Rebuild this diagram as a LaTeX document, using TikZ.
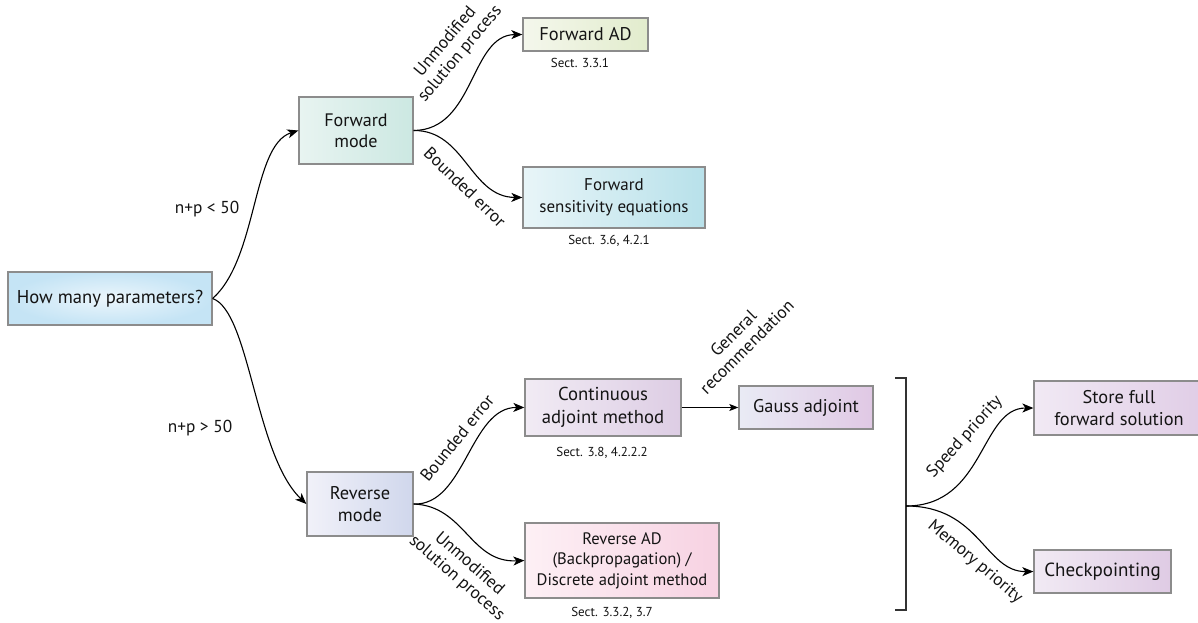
\documentclass[tikz,border=0pt]{standalone}
\usepackage{fontspec}
\setmainfont{PT Sans}
\usetikzlibrary{arrows.meta}
\tikzset{
  box/.style={draw=black!45, line width=1.3pt, inner sep=2pt, align=center,
    font=\fontsize{18.4}{22}\selectfont, text=black!92},
  arr/.style={line width=1.1pt, -{Stealth[length=11pt,width=9pt,inset=3pt]}},
  lbl/.style={font=\fontsize{17.3}{19}\selectfont, align=center, inner sep=0pt, text=black!92},
  sect/.style={font=\fontsize{13}{15}\selectfont, inner sep=0pt, text=black!92},
}
\definecolor{bracketc}{gray}{0.2}
\begin{document}
\begin{tikzpicture}[x=1pt,y=-1pt]
\clip (0,0) rectangle (1198,623);
\fill[white] (0,0) rectangle (1198,623);

% nodes
\node[box, font=\fontsize{18.6}{22}\selectfont, minimum width=204pt, minimum height=53pt, inner color={rgb,255:red,236;green,246;blue,252}, outer color={rgb,255:red,197;green,228;blue,245}] (hm) at (110,298.5) {How many parameters?};
\node[box, font=\fontsize{18.1}{21}\selectfont, minimum width=114pt, minimum height=67pt, left color={rgb,255:red,232;green,244;blue,241}, right color={rgb,255:red,204;green,232;blue,226}] (fm) at (356,130.5) {Forward\\mode};
\node[box, minimum width=125pt, minimum height=33pt, left color={rgb,255:red,244;green,247;blue,236}, right color={rgb,255:red,226;green,236;blue,205}] (fad) at (585.5,34.5) {Forward AD};
\node[box, font=\fontsize{17}{22}\selectfont, minimum width=182pt, minimum height=61pt, left color={rgb,255:red,232;green,245;blue,248}, right color={rgb,255:red,184;green,225;blue,234}] (fse) at (614,197.5) {Forward\\sensitivity equations};
\node[box, minimum width=106pt, minimum height=64pt, left color={rgb,255:red,241;green,241;blue,249}, right color={rgb,255:red,208;green,215;blue,236}] (rm) at (360,504) {Reverse\\mode};
\node[box, font=\fontsize{18.7}{23}\selectfont, minimum width=156pt, minimum height=57pt, left color={rgb,255:red,241;green,235;blue,244}, right color={rgb,255:red,221;green,205;blue,228}] (cam) at (603,407.5) {Continuous\\adjoint method};
\node[box, font=\fontsize{16.6}{20.5}\selectfont, minimum width=194pt, minimum height=75pt, left color={rgb,255:red,253;green,240;blue,245}, right color={rgb,255:red,247;green,210;blue,226}] (rad) at (622,560.5) {Reverse AD\\(Backpropagation) /\\Discrete adjoint method};
\node[box, minimum width=134pt, minimum height=43pt, left color={rgb,255:red,233;green,235;blue,245}, right color={rgb,255:red,224;green,200;blue,228}] (ga) at (806,407.5) {Gauss adjoint};
\node[box, minimum width=170pt, minimum height=54pt, left color={rgb,255:red,241;green,233;blue,244}, right color={rgb,255:red,224;green,205;blue,230}] (sfs) at (1119,408) {Store full\\forward solution};
\node[box, font=\fontsize{19}{22}\selectfont, minimum width=137pt, minimum height=43pt, left color={rgb,255:red,241;green,234;blue,244}, right color={rgb,255:red,223;green,203;blue,228}] (cp) at (1102.5,571.5) {Checkpointing};

% section labels
\node[sect] (s1) at (580,63) {Sect. 3.3.1};
\node[sect] (s2) at (609,241) {Sect. 3.6, 4.2.1};
\node[sect] (s3) at (602,453) {Sect. 3.8, 4.2.2.2};
\node[sect] (s4) at (612,613) {Sect. 3.3.2, 3.7};

% bracket
\coordinate (bt1) at (895,378);
\coordinate (bt2) at (906,378);
\coordinate (bb2) at (906,610);
\coordinate (bb1) at (895,610);
\coordinate (br) at (906,506);
\draw[line width=1.3pt, bracketc] (bt1) -- (bt2) -- (bb2) -- (bb1);

% connectors
\draw[arr] (hm.east) .. controls (258,258) and (252,145) .. (fm.west);
\draw[arr] (hm.east) .. controls (250,312) and (255,455) .. (rm.west);
\draw[arr] (fm.east) .. controls (475,130) and (470,35) .. (fad.west);
\draw[arr] (fm.east) .. controls (465,130) and (470,197) .. (fse.west);
\draw[arr] (rm.east) .. controls (465,506) and (470,407) .. (cam.west);
\draw[arr] (rm.east) .. controls (465,506) and (470,563) .. (rad.west);
\draw[line width=1.1pt, -{Stealth[length=9pt,width=7pt,inset=2pt]}] (cam.east) -- (ga.west);
\draw[arr] (br) .. controls (985,506) and (980,408) .. (sfs.west);
\draw[arr] (br) .. controls (980,506) and (985,572) .. (cp.west);

% edge labels
\node[lbl] (l1) at (207,209) {n+p < 50};
\node[lbl] (l2) at (200,428) {n+p > 50};
\node[lbl, rotate=50] (l3) at (453,48) {Unmodified\\solution process};
\node[lbl, rotate=-44] (l4) at (465,187) {Bounded error};
\node[lbl, rotate=51] (l5) at (457,438) {Bounded error};
\node[lbl, rotate=-41] (l6) at (463,571) {Unmodified\\solution process};
\node[lbl, rotate=45] (l7) at (740,340) {General\\recommendation};
\node[lbl, rotate=48] (l8) at (965,437) {Speed priority};
\node[lbl, rotate=-40] (l9) at (975,562) {Memory priority};
\end{tikzpicture}
\end{document}
